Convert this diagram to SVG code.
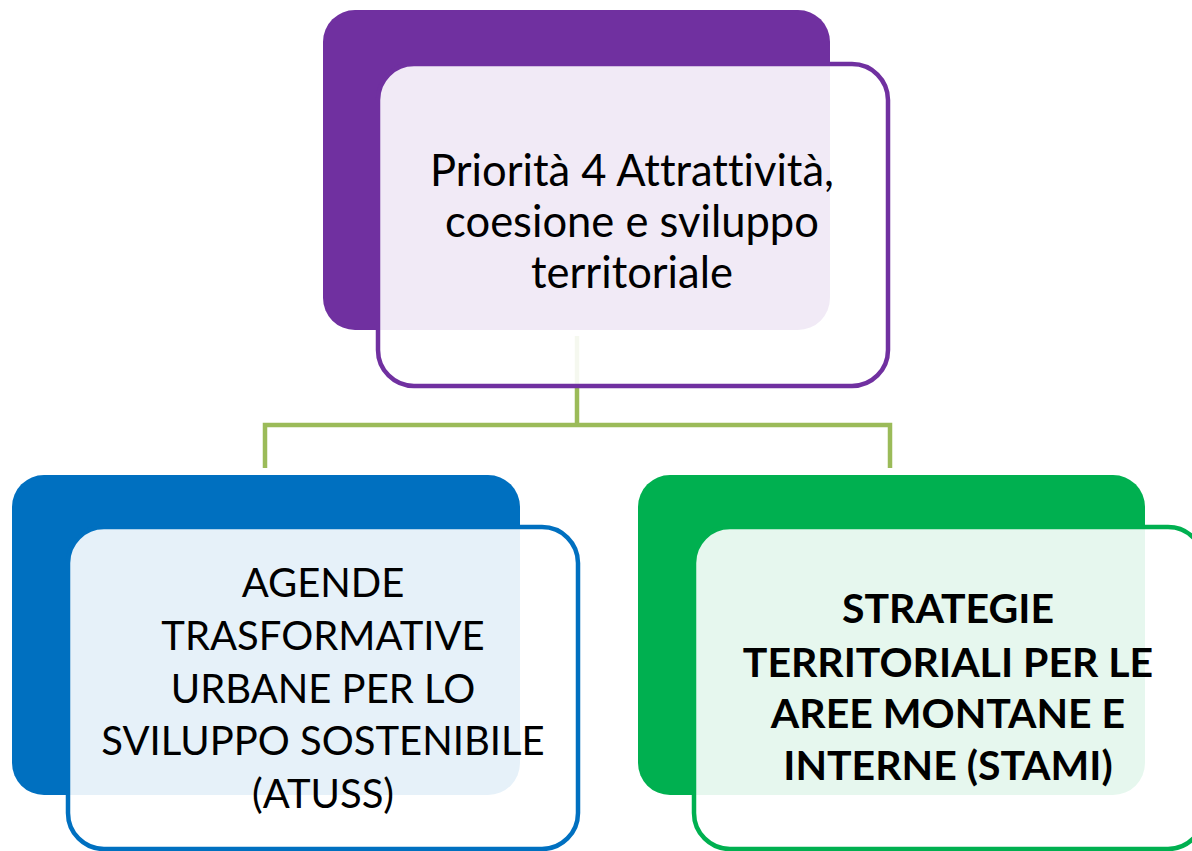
<svg xmlns="http://www.w3.org/2000/svg" width="1192" height="851" viewBox="0 0 1192 851">
<style>
.front{fill:#ffffff;fill-opacity:0.9;stroke-width:4.5}
.conn{fill:none;stroke:#9BBB59;stroke-width:4.5;stroke-linejoin:miter}
.t{font-family:Lato,"Liberation Sans",sans-serif;font-size:40px;fill:#000;text-anchor:middle;font-variant-ligatures:none}
.top{font-size:43.5px}
.b{font-weight:bold;font-size:41px}
</style>
<rect width="1192" height="851" fill="#ffffff"/>
<g id="connectors">
<path class="conn" d="M577,336 V425 M265,468 V425 H890 V468"/>
</g>
<g id="node-top">
<rect x="323" y="10" width="507" height="320" rx="32" fill="#7030A0"/>
<rect class="front" x="378" y="64" width="510" height="322" rx="36" stroke="#7030A0"/>
<text class="t top" x="632" y="186">Priorità 4 Attrattività,</text>
<text class="t top" x="632" y="237">coesione e sviluppo</text>
<text class="t top" x="632" y="288">territoriale</text>
</g>
<g id="node-atuss">
<rect x="12" y="475" width="508" height="320" rx="32" fill="#0070C0"/>
<rect class="front" x="68" y="527" width="510" height="322" rx="36" stroke="#0070C0"/>
<text class="t" x="323" y="597">AGENDE</text>
<text class="t" x="323" y="650">TRASFORMATIVE</text>
<text class="t" x="323" y="703">URBANE PER LO</text>
<text class="t" x="323" y="755">SVILUPPO SOSTENIBILE</text>
<text class="t" x="323" y="808">(ATUSS)</text>
</g>
<g id="node-stami">
<rect x="638" y="475" width="507" height="320" rx="32" fill="#00B050"/>
<rect class="front" x="694" y="527" width="510" height="322" rx="36" stroke="#00B050"/>
<text class="t b" x="948" y="623">STRATEGIE</text>
<text class="t b" x="948" y="677">TERRITORIALI PER LE</text>
<text class="t b" x="948" y="728">AREE MONTANE E</text>
<text class="t b" x="948" y="780">INTERNE (STAMI)</text>
</g>
</svg>
